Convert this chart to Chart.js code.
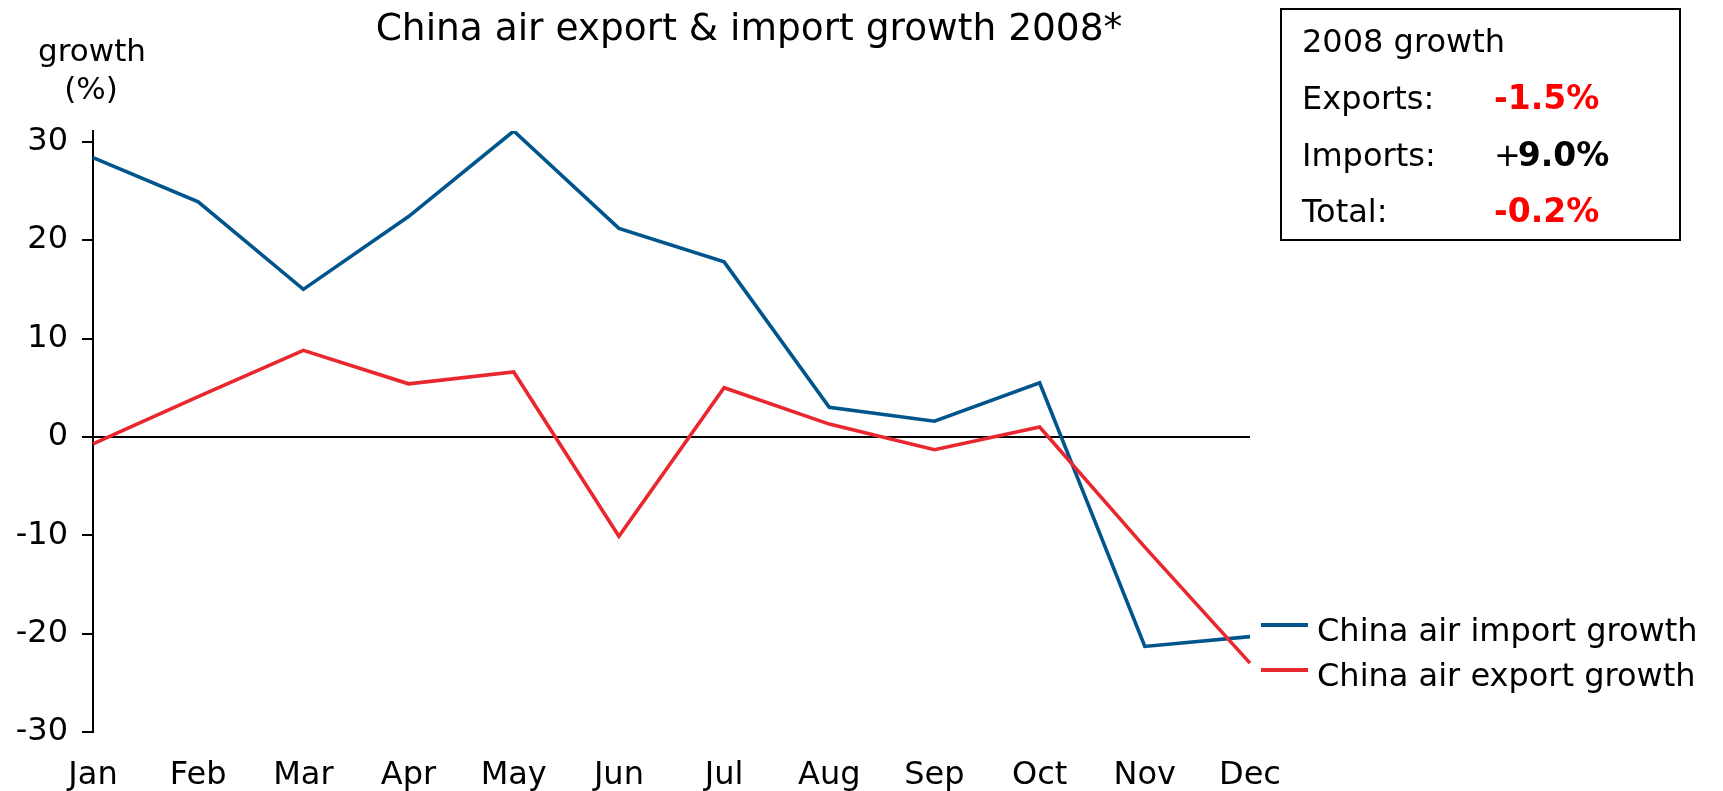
<!DOCTYPE html>
<html>
<head>
<meta charset="utf-8">
<script src="https://cdn.jsdelivr.net/npm/chart.js@4"></script>
<style>
  html, body { margin: 0; padding: 0; background: #fff; }
  #wrap { width: 1723px; height: 791px; position: relative; }
</style>
</head>
<body>
<div id="wrap"><canvas id="growthChart"></canvas></div>
<script>
const months = ['Jan', 'Feb', 'Mar', 'Apr', 'May', 'Jun', 'Jul', 'Aug', 'Sep', 'Oct', 'Nov', 'Dec'];
const importGrowth = [28.4, 23.9, 15.0, 22.4, 31.1, 21.2, 17.8, 3.0, 1.6, 5.5, -21.3, -20.3];
const exportGrowth = [-0.7, 4.1, 8.8, 5.4, 6.6, -10.1, 5.0, 1.3, -1.3, 1.0, -11.2, -23.0];
const seriesNames = ['China air import growth', 'China air export growth'];
const yTicks = [-30, -20, -10, 0, 10, 20, 30];

const summaryTitle = '2008 growth';
const summaryLabels = ['Exports:', 'Imports:', 'Total:'];
const summaryValues = ['-1.5%', '9.0%', '-0.2%'];
const summarySigns = ['', '+', ''];
const summaryColors = ['#ff0000', '#000000', '#ff0000'];

const FONT = '"DejaVu Sans", sans-serif';
const BLUE = 'rgb(0, 85, 140)';
const RED = 'rgb(232, 40, 46)';

// title, axis caption, summary box and legend
const extras = {
  id: 'extras',
  afterDraw(chart) {
    const ctx = chart.ctx;
    ctx.save();
    ctx.fillStyle = '#000';
    ctx.textBaseline = 'alphabetic';

    ctx.font = '37.5px ' + FONT;
    ctx.textAlign = 'center';
    ctx.fillText('China air export & import growth 2008*', 749, 40);

    ctx.font = '31px ' + FONT;
    ctx.fillText('growth', 92, 61);
    ctx.fillText('(%)', 91, 99);

    // summary box
    ctx.lineWidth = 2;
    ctx.strokeStyle = '#000';
    ctx.strokeRect(1281, 9, 399, 231);
    ctx.textAlign = 'left';
    ctx.font = '32px ' + FONT;
    ctx.fillText(summaryTitle, 1302, 52);
    const rows = [109, 166, 222];
    summaryLabels.forEach((lab, i) => {
      ctx.font = '32px ' + FONT;
      ctx.fillStyle = '#000';
      ctx.fillText(lab, 1302, rows[i]);
      let x = 1494;
      if (summarySigns[i]) {
        ctx.fillText(summarySigns[i], x, rows[i]);
        x += ctx.measureText(summarySigns[i]).width - 3;
      }
      ctx.font = 'bold 33px ' + FONT;
      ctx.fillStyle = summaryColors[i];
      ctx.fillText(summaryValues[i], x, rows[i]);
    });

    // legend
    const ly = [625, 670];
    ctx.font = '32px ' + FONT;
    ctx.fillStyle = '#000';
    ctx.textBaseline = 'middle';
    chart.data.datasets.forEach((ds, i) => {
      ctx.strokeStyle = ds.borderColor;
      ctx.lineWidth = 4;
      ctx.beginPath();
      ctx.moveTo(1261, ly[i]);
      ctx.lineTo(1308, ly[i]);
      ctx.stroke();
      ctx.fillText(ds.label, 1317, ly[i] + 8);
    });
    ctx.restore();
  }
};

new Chart(document.getElementById('growthChart'), {
  type: 'line',
  data: {
    labels: months,
    datasets: [
      { label: seriesNames[0], data: importGrowth, borderColor: BLUE, order: 2 },
      { label: seriesNames[1], data: exportGrowth, borderColor: RED, order: 1 }
    ]
  },
  options: {
    responsive: true,
    maintainAspectRatio: false,
    animation: false,
    layout: { padding: { top: 131, right: 473, left: 0, bottom: 0 } },
    elements: {
      line: { borderWidth: 3.6, tension: 0, fill: false },
      point: { radius: 0 }
    },
    plugins: {
      legend: { display: false },
      title: { display: false },
      tooltip: { enabled: false }
    },
    scales: {
      x: {
        offset: false,
        grid: { display: false },
        border: { display: false },
        ticks: { color: '#000', font: { family: FONT, size: 32 }, padding: 16, maxRotation: 0, autoSkip: false },
        afterFit: (s) => { s.height = 59; }
      },
      y: {
        min: -30,
        max: 31.1,
        afterBuildTicks: (s) => { s.ticks = yTicks.map(v => ({ value: v })); },
        afterFit: (s) => { s.width = 93; },
        border: { display: true, color: '#000', width: 2 },
        grid: {
          drawOnChartArea: true,
          color: (c) => (c.tick && c.tick.value === 0 ? '#000' : 'rgba(0,0,0,0)'),
          lineWidth: 2,
          tickColor: '#000',
          tickLength: 11,
          drawTicks: true
        },
        ticks: { color: '#000', font: { family: FONT, size: 32 }, padding: 14 }
      }
    }
  },
  plugins: [extras]
});
</script>
</body>
</html>
